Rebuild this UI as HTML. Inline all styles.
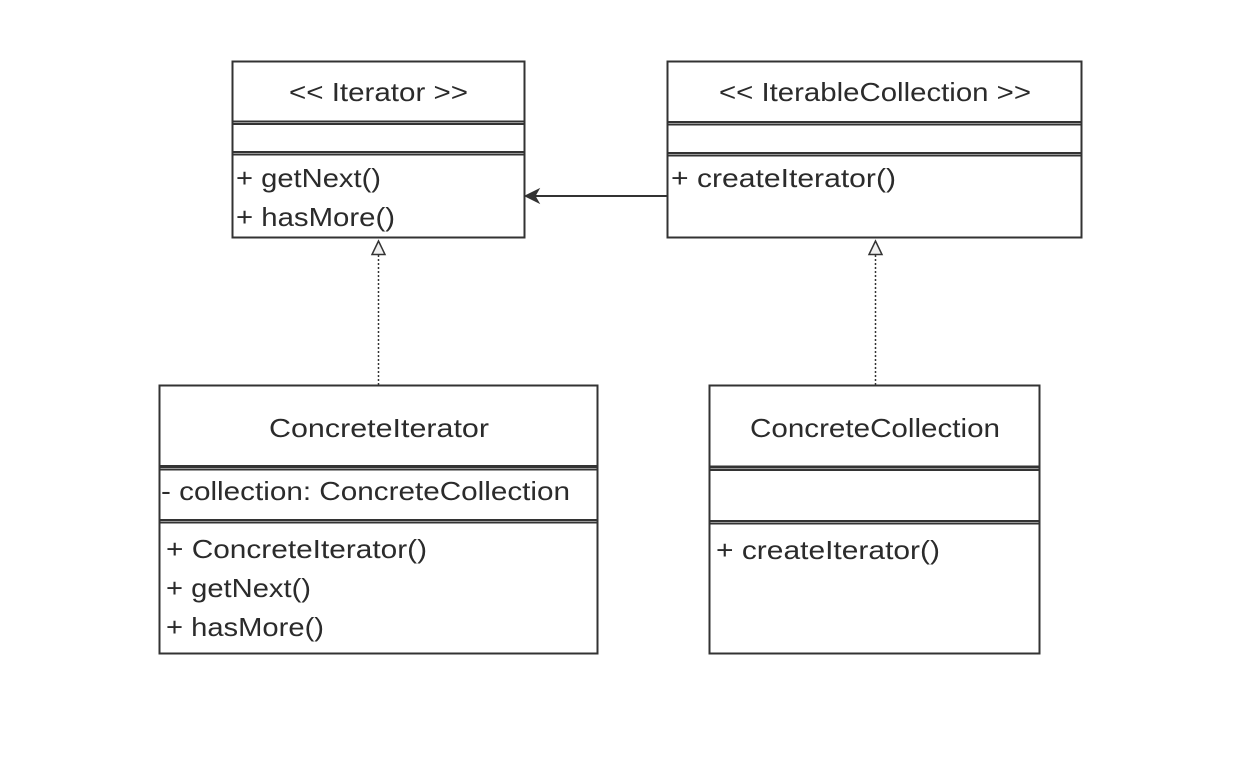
<!DOCTYPE html>
<html><head><meta charset="utf-8"><style>
html,body{margin:0;padding:0;background:#fff;}
svg text{font-family:"Liberation Sans",sans-serif;font-size:26px;fill:#2b2b2b;}
</style></head><body>
<svg width="1242" height="765" xmlns="http://www.w3.org/2000/svg">
<g fill="none" stroke="#333" stroke-width="2">
<rect x="232.5" y="61.5" width="292" height="176"/>
<line x1="232" y1="121.5" x2="525" y2="121.5"/><line x1="232" y1="124" x2="525" y2="124"/>
<line x1="232" y1="152" x2="525" y2="152"/><line x1="232" y1="154.5" x2="525" y2="154.5"/>
<rect x="667.5" y="61.5" width="414" height="176"/>
<line x1="667" y1="122" x2="1082" y2="122"/><line x1="667" y1="124.5" x2="1082" y2="124.5"/>
<line x1="667" y1="153" x2="1082" y2="153"/><line x1="667" y1="155.5" x2="1082" y2="155.5"/>
<rect x="159.5" y="385.5" width="438" height="268"/>
<line x1="159" y1="466.5" x2="598" y2="466.5" stroke-width="3"/><line x1="159" y1="469.5" x2="598" y2="469.5"/>
<line x1="159" y1="520" x2="598" y2="520"/><line x1="159" y1="522.5" x2="598" y2="522.5"/>
<rect x="709.5" y="385.5" width="330" height="268"/>
<line x1="709" y1="467" x2="1040" y2="467" stroke-width="3"/><line x1="709" y1="470" x2="1040" y2="470"/>
<line x1="709" y1="521" x2="1040" y2="521"/><line x1="709" y1="523.5" x2="1040" y2="523.5"/>
<line x1="667" y1="196" x2="535" y2="196"/>
<line x1="378.5" y1="385" x2="378.5" y2="255" stroke-dasharray="2,2" stroke-width="1.5"/>
<line x1="875.5" y1="385" x2="875.5" y2="255" stroke-dasharray="2,2" stroke-width="1.5"/>
</g>
<polygon points="525,196 539,189 535,196 539,203" fill="#333" stroke="#333" stroke-width="1"/>
<polygon points="378.5,241 372,254.5 385,254.5" fill="#f0f0f0" stroke="#333" stroke-width="1.5"/>
<polygon points="875.5,241 869,254.5 882,254.5" fill="#f0f0f0" stroke="#333" stroke-width="1.5"/>
<text x="289" y="101" textLength="179" lengthAdjust="spacingAndGlyphs">&lt;&lt; Iterator &gt;&gt;</text>
<text x="236" y="187" textLength="145" lengthAdjust="spacingAndGlyphs">+ getNext()</text>
<text x="236" y="226" textLength="159" lengthAdjust="spacingAndGlyphs">+ hasMore()</text>
<text x="719" y="101" textLength="312" lengthAdjust="spacingAndGlyphs">&lt;&lt; IterableCollection &gt;&gt;</text>
<text x="671" y="187" textLength="225" lengthAdjust="spacingAndGlyphs">+ createIterator()</text>
<text x="269" y="437" textLength="220" lengthAdjust="spacingAndGlyphs">ConcreteIterator</text>
<text x="161" y="500" textLength="409" lengthAdjust="spacingAndGlyphs">- collection: ConcreteCollection</text>
<text x="166" y="558" textLength="261" lengthAdjust="spacingAndGlyphs">+ ConcreteIterator()</text>
<text x="166" y="597" textLength="145" lengthAdjust="spacingAndGlyphs">+ getNext()</text>
<text x="166" y="636" textLength="158" lengthAdjust="spacingAndGlyphs">+ hasMore()</text>
<text x="750" y="437" textLength="250" lengthAdjust="spacingAndGlyphs">ConcreteCollection</text>
<text x="716" y="559" textLength="224" lengthAdjust="spacingAndGlyphs">+ createIterator()</text>
</svg>
</body></html>
